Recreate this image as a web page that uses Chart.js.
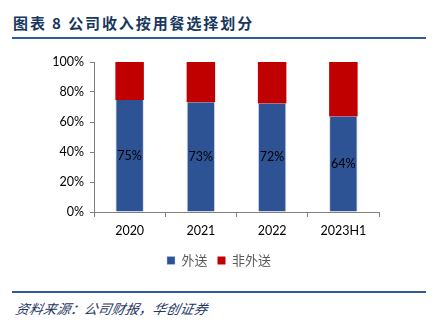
<!DOCTYPE html>
<html><head><meta charset="utf-8">
<script src="https://cdn.jsdelivr.net/npm/chart.js@4/dist/chart.umd.min.js"></script>
<style>
html,body{margin:0;padding:0;background:#fff;width:438px;height:327px;overflow:hidden;}
#title{position:absolute;left:13px;top:12px;font-family:"Noto Sans CJK SC";font-weight:700;font-size:15px;letter-spacing:1.9px;color:#17375E;white-space:nowrap;line-height:22px;}
#line1{position:absolute;left:12px;top:37px;width:414px;height:2px;background:#2E5C9A;}
#line2{position:absolute;left:12px;top:291px;width:414px;height:2px;background:#2E5C9A;}
#src{position:absolute;left:14px;top:298px;font-family:"Noto Sans CJK SC";font-style:italic;font-size:13.5px;letter-spacing:0.2px;color:#1F3864;white-space:nowrap;line-height:20px;transform:skewX(-12deg);transform-origin:left bottom;}
#wrap{position:absolute;left:0;top:45px;width:438px;height:236px;}
</style></head>
<body>
<div id="title">图表 8 公司收入按用餐选择划分</div>
<div id="line1"></div>
<div id="wrap"><canvas id="c"></canvas></div>
<div id="line2"></div>
<div id="src">资料来源：公司财报，华创证券</div>
<script>
const categories = ["2020","2021","2022","2023H1"];
const delivery = [74.7, 73.1, 72.4, 63.6];
const nonDelivery = [25.3, 26.9, 27.6, 36.4];
const seriesNames = ["外送","非外送"];
const yTicks = [0,20,40,60,80,100];

const labelPlugin = {
  id:'lbl',
  afterDatasetsDraw(chart){
    const ctx = chart.ctx;
    const meta = chart.getDatasetMeta(0);
    ctx.save();
    ctx.font = '12.5px Lato, "Noto Sans"';
    ctx.fillStyle = '#000';
    ctx.textAlign = 'center';
    ctx.textBaseline = 'middle';
    meta.data.forEach((bar,i)=>{
      const y = (bar.y + bar.base)/2;
      ctx.fillText(Math.round(delivery[i]) + '%', bar.x, y);
    });
    ctx.restore();
  }
};

new Chart(document.getElementById('c'), {
  type:'bar',
  data:{
    labels:categories,
    datasets:[
      {label:seriesNames[0], data:delivery, backgroundColor:'#2E5394', borderColor:'rgba(200,210,235,0.8)', borderWidth:{left:1,right:1,top:0,bottom:0}, barPercentage:0.8, categoryPercentage:0.5, borderSkipped:false},
      {label:seriesNames[1], data:nonDelivery, backgroundColor:'#C00000', borderColor:'rgba(235,180,180,0.6)', borderWidth:0, barPercentage:0.8, categoryPercentage:0.5}
    ]
  },
  options:{
    responsive:true, maintainAspectRatio:false, animation:false,
    layout:{padding:{left:0,right:0,top:17,bottom:4}},
    plugins:{
      legend:{position:'bottom', labels:{boxWidth:8, boxHeight:8, padding:10, color:'#595959', font:{family:'"Noto Sans CJK SC"', size:13}}},
      tooltip:{enabled:false}
    },
    scales:{
      x:{stacked:true,
        grid:{offset:true, drawOnChartArea:false, drawTicks:true, tickLength:5, color:'#7f7f7f'},
        border:{display:true,color:'#7f7f7f'},
        ticks:{color:'#000', padding:6, font:{family:'Lato, "Noto Sans"', size:12.5}}
      },
      y:{stacked:true, min:0, max:100,
        afterFit(s){s.width=94;},
        afterBuildTicks(s){s.ticks = yTicks.map(v=>({value:v}));},
        grid:{drawOnChartArea:false, drawTicks:true, tickLength:4, color:'#7f7f7f'},
        border:{display:true,color:'#7f7f7f'},
        ticks:{color:'#000', padding:6, font:{family:'Lato, "Noto Sans"', size:12.5}, callback:v=>v+'%'}
      },
      yR:{position:'right', display:true, min:0, max:100,
        afterFit(s){s.width=59;},
        grid:{display:false, drawTicks:false}, border:{display:false},
        ticks:{display:false}
      }
    }
  },
  plugins:[labelPlugin]
});
</script>
</body></html>
